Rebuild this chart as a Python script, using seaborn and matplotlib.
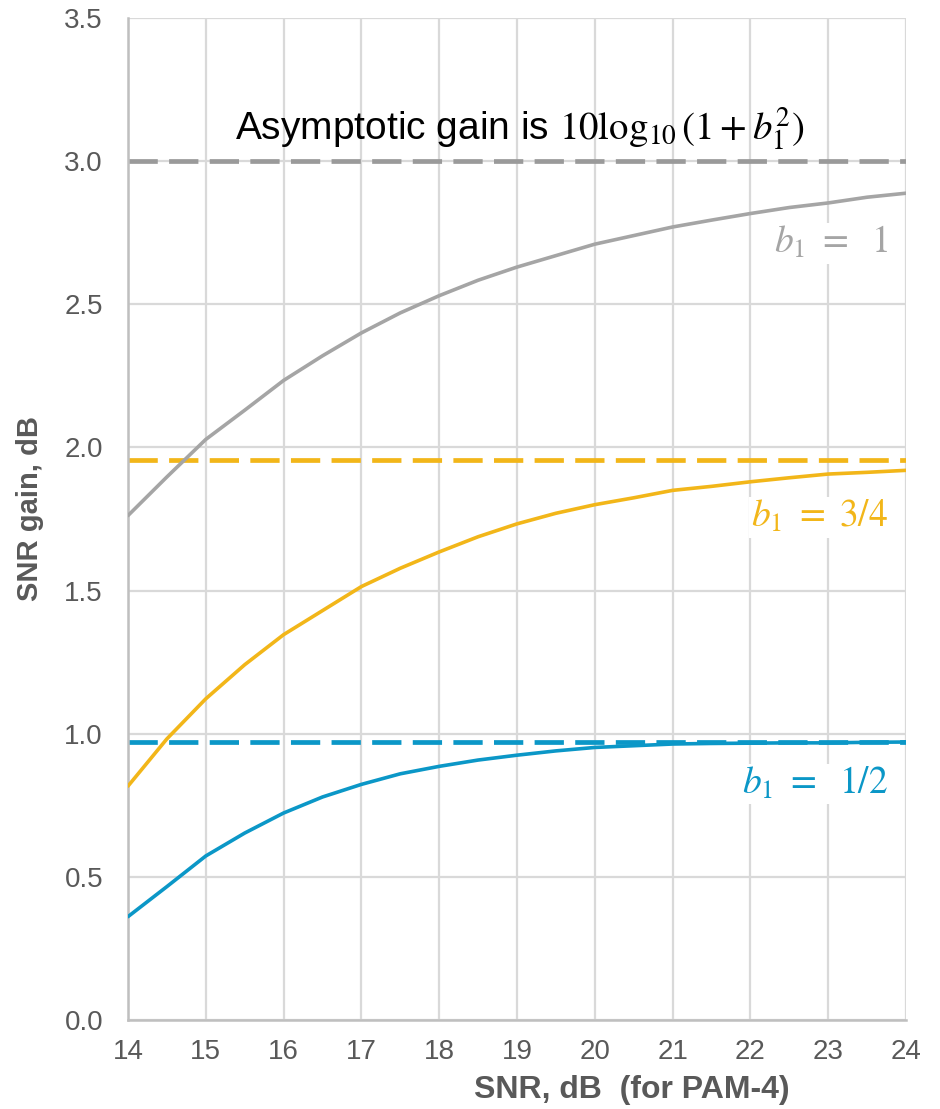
import matplotlib
matplotlib.use("Agg")
import matplotlib.pyplot as plt
import seaborn as sns
import pandas as pd

# ---- data ----
snr_db = [14, 14.5, 15, 15.5, 16, 16.5, 17, 17.5, 18, 18.5, 19, 19.5,
          20, 20.5, 21, 21.5, 22, 22.5, 23, 23.5, 24]
gain_b1_1 = [1.762, 1.897, 2.028, 2.130, 2.234, 2.320, 2.400, 2.470, 2.530,
             2.584, 2.630, 2.670, 2.710, 2.740, 2.770, 2.794, 2.817, 2.838,
             2.854, 2.874, 2.888]
gain_b1_34 = [0.817, 0.982, 1.122, 1.241, 1.346, 1.430, 1.514, 1.578, 1.635,
              1.688, 1.733, 1.770, 1.800, 1.824, 1.850, 1.864, 1.880, 1.894,
              1.907, 1.913, 1.920]
gain_b1_12 = [0.361, 0.466, 0.573, 0.653, 0.723, 0.779, 0.823, 0.860, 0.886,
              0.908, 0.925, 0.940, 0.952, 0.958, 0.964, 0.966, 0.967, 0.968,
              0.968, 0.970, 0.971]
series_names = ["b1 = 1", "b1 = 3/4", "b1 = 1/2"]
series_labels = [r"$b_1\ =\ \ 1$", r"$b_1\ =\ 3/4$", r"$b_1\ =\ \ 1/2$"]
asymptotes = [3.0, 1.955, 0.970]
label_y = [2.713, 1.756, 0.825]
x_ticks = [14, 15, 16, 17, 18, 19, 20, 21, 22, 23, 24]
y_ticks = [0.0, 0.5, 1.0, 1.5, 2.0, 2.5, 3.0, 3.5]
title_text = r"Asymptotic gain is $10\log_{10}(1 + b_1^2)$"
x_label = "SNR, dB  (for PAM-4)"
y_label = "SNR gain, dB"

colors = ["#a5a5a5", "#f2b619", "#0b97c7"]
dash_colors = ["#9a9a9a", "#f2b619", "#0b97c7"]

# ---- style ----
sns.set_theme(style="whitegrid")
plt.rcParams["font.family"] = ["Liberation Sans", "DejaVu Sans"]
plt.rcParams["mathtext.fontset"] = "stix"

df = pd.DataFrame({
    "snr": snr_db * 3,
    "gain": gain_b1_1 + gain_b1_34 + gain_b1_12,
    "series": [series_names[0]] * len(snr_db) + [series_names[1]] * len(snr_db)
              + [series_names[2]] * len(snr_db),
})

fig = plt.figure(figsize=(9.4, 11.09), dpi=100)
ax = fig.add_axes([128 / 940, 1 - 1020 / 1109, 778 / 940, 1002 / 1109])

for yv, c in zip(asymptotes, dash_colors):
    ax.axhline(yv, color=c, lw=3.4, dashes=(6.2, 2.4), zorder=2)

sns.lineplot(data=df, x="snr", y="gain", hue="series", palette=colors,
             hue_order=series_names, linewidth=2.6, legend=False, ax=ax,
             zorder=3)

ax.set_xlim(14, 24)
ax.set_ylim(0, 3.5)
ax.set_xticks(x_ticks)
ax.set_yticks(y_ticks)
ax.set_xticklabels([str(t) for t in x_ticks])
ax.set_yticklabels([f"{t:.1f}" for t in y_ticks])
ax.tick_params(axis="both", length=0, labelsize=20, labelcolor="#595959")
ax.tick_params(axis="y", pad=18)
ax.tick_params(axis="x", pad=14)
ax.grid(True, color="#d9d9d9", linewidth=1.6)
ax.set_axisbelow(True)
for s in ["top", "right"]:
    ax.spines[s].set_visible(False)
for s in ["left", "bottom"]:
    ax.spines[s].set_visible(True)
    ax.spines[s].set_color("#bfbfbf")
    ax.spines[s].set_linewidth(1.8)
ax.set_xlabel("")
ax.set_ylabel("")

fig.text(632 / 940, 1 - 1090 / 1109, x_label, ha="center", va="center",
         fontsize=23, fontweight="bold", color="#595959")
fig.text(30 / 940, 1 - 508 / 1109, y_label, ha="center", va="center",
         rotation=90, fontsize=21, fontweight="bold", color="#595959")

ax.text(19.04, 3.115, title_text, ha="center", va="center", fontsize=28,
        color="black", zorder=5)

for lab, ly, c in zip(series_labels, label_y, colors):
    ax.text(23.77, ly, lab, ha="right", va="center", fontsize=27, color=c,
            zorder=5,
            bbox=dict(facecolor="white", edgecolor="none", pad=1.5))

fig.savefig("out.png", dpi=100, facecolor="white")
